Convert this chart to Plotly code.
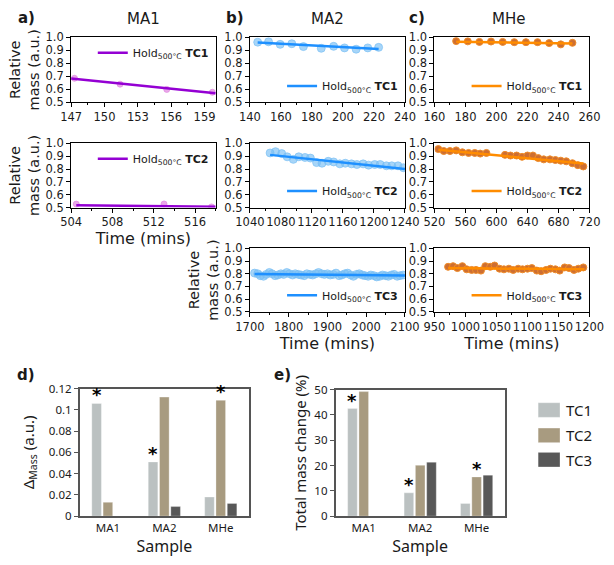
import plotly.graph_objects as go

# ---------------- data ----------------
# MA1
a1_x = [147.3, 151.4, 155.6, 159.7]
a1_y = [0.685, 0.640, 0.600, 0.578]
a1_fit_x = [147.0, 160.0]
a1_fit_y = [0.683, 0.570]

a2_x = [504.5, 513.0, 517.6]
a2_y = [0.527, 0.528, 0.505]
a2_fit_x = [504.5, 518.0]
a2_fit_y = [0.517, 0.507]

# MA2
b1_x = [145, 152, 159.5, 167, 174.5, 186, 194, 201, 208.5, 216, 223]
b1_y = [0.962, 0.965, 0.945, 0.950, 0.928, 0.915, 0.930, 0.918, 0.908, 0.918, 0.922]
b1_fit_x = [145, 223]
b1_fit_y = [0.960, 0.910]

b2_x = [1066, 1073, 1081, 1088, 1096, 1103, 1111, 1118, 1126, 1133, 1141, 1148,
        1156, 1163, 1171, 1178, 1186, 1193, 1201, 1208, 1216, 1223, 1231, 1238]
b2_y = [0.925, 0.935, 0.920, 0.895, 0.875, 0.895, 0.890, 0.885, 0.850, 0.845, 0.860, 0.855,
        0.840, 0.845, 0.840, 0.835, 0.840, 0.830, 0.835, 0.835, 0.825, 0.825, 0.825, 0.810]
b2_fit_x = [1066, 1240]
b2_fit_y = [0.910, 0.800]

b3_x = [1712, 1720, 1727, 1735, 1742, 1750, 1757, 1765, 1772, 1780, 1787, 1795, 1802,
        1810, 1817, 1825, 1832, 1840, 1847, 1855, 1862, 1870, 1877, 1885, 1892, 1900,
        1907, 1915, 1922, 1930, 1937, 1945, 1952, 1960, 1967, 1975, 1982, 1990, 1997,
        2005, 2012, 2020, 2027, 2035, 2042, 2050, 2057, 2065, 2072, 2080, 2087, 2095]
b3_y = [0.805, 0.800, 0.785, 0.780, 0.795, 0.810, 0.800, 0.785, 0.790, 0.800, 0.795, 0.810,
        0.800, 0.790, 0.800, 0.795, 0.790, 0.785, 0.800, 0.795, 0.790, 0.800, 0.810, 0.800,
        0.795, 0.800, 0.790, 0.795, 0.805, 0.785, 0.790, 0.800, 0.805, 0.790, 0.780, 0.795,
        0.800, 0.790, 0.785, 0.780, 0.790, 0.785, 0.775, 0.780, 0.790, 0.785, 0.780, 0.790,
        0.795, 0.780, 0.785, 0.790]
b3_fit_x = [1712, 2100]
b3_fit_y = [0.798, 0.786]

# MHe
c1_x = [174, 181.5, 189, 196.5, 204, 211.5, 219, 226.5, 234, 241.5, 249]
c1_y = [0.970, 0.968, 0.964, 0.967, 0.964, 0.962, 0.962, 0.962, 0.955, 0.945, 0.957]
c1_fit_x = [174, 249]
c1_fit_y = [0.966, 0.951]

c2_x = [525, 532, 540, 548, 556, 564, 572, 579, 587, 611, 618, 626,
        633, 640, 647, 654, 661, 669, 676, 683, 690, 698, 705, 712]
c2_y = [0.955, 0.940, 0.940, 0.945, 0.930, 0.925, 0.925, 0.920, 0.925, 0.910, 0.905, 0.905,
        0.895, 0.905, 0.905, 0.885, 0.875, 0.875, 0.870, 0.865, 0.860, 0.845, 0.830, 0.820]
c2_fit_x = [525, 712]
c2_fit_y = [0.950, 0.842]

c3_x = [972, 980, 987, 995, 1002, 1010, 1017, 1025, 1032, 1040, 1047, 1055, 1062, 1070,
        1077, 1085, 1092, 1100, 1107, 1115, 1122, 1130, 1137, 1145, 1152, 1160, 1167,
        1175, 1182, 1190]
c3_y = [0.855, 0.860, 0.845, 0.860, 0.835, 0.830, 0.830, 0.825, 0.860, 0.855, 0.865, 0.840,
        0.835, 0.840, 0.830, 0.840, 0.835, 0.840, 0.845, 0.825, 0.820, 0.830, 0.840, 0.835,
        0.825, 0.850, 0.845, 0.830, 0.840, 0.850]
c3_fit_x = [972, 1192]
c3_fit_y = [0.845, 0.835]

# bar charts
samples = ["MA1", "MA2", "MHe"]
tc_names = ["TC1", "TC2", "TC3"]
delta_TC1 = [0.106, 0.051, 0.018]
delta_TC2 = [0.013, 0.112, 0.109]
delta_TC3 = [None, 0.009, 0.012]
total_TC1 = [42.5, 9.2, 5.0]
total_TC2 = [49.2, 20.1, 15.5]
total_TC3 = [None, 21.3, 16.2]
delta_star = [("MA1", 0), ("MA2", 0), ("MHe", 1)]   # (sample, TC index)
total_star = [("MA1", 0), ("MA2", 0), ("MHe", 1)]

# ---------------- styling ----------------
W, H = 614, 565
FONT = "DejaVu Sans"
BFONT = "Noto Sans"
TXT = "#1a1a1a"

def fx(p):
    return p / W

def fy(p):
    return 1 - p / H

purple = dict(line="rgb(148,0,211)", mk="rgba(225,140,225,0.75)", mkline="rgba(225,140,225,0.75)", size=6)
blue = dict(line="rgb(30,144,255)", mk="rgba(120,190,245,0.65)", mkline="rgba(120,190,245,0.65)", size=8)
orange = dict(line="rgb(255,140,0)", mk="rgb(205,110,50)", mkline="rgb(240,140,40)", size=7)

# key, x, y, fitx, fity, style, xrange, dtick, (x0,x1,y0,y1) px box, legend pos, tc label, row label
panels = [
    ("a1", a1_x, a1_y, a1_fit_x, a1_fit_y, purple, [147, 160], 3, (59, 211, 30, 97), "top", "TC1", True),
    ("b1", b1_x, b1_y, b1_fit_x, b1_fit_y, blue, [140, 240], 20, (247, 410, 30, 97), "bottom", "TC1", False),
    ("c1", c1_x, c1_y, c1_fit_x, c1_fit_y, orange, [160, 260], 20, (441, 604, 30, 97), "bottom", "TC1", False),
    ("a2", a2_x, a2_y, a2_fit_x, a2_fit_y, purple, [504, 518], 4, (59, 211, 139, 205), "top", "TC2", True),
    ("b2", b2_x, b2_y, b2_fit_x, b2_fit_y, blue, [1040, 1240], 40, (247, 410, 139, 205), "bottom", "TC2", False),
    ("c2", c2_x, c2_y, c2_fit_x, c2_fit_y, orange, [520, 720], 40, (441, 604, 139, 205), "bottom", "TC2", False),
    ("b3", b3_x, b3_y, b3_fit_x, b3_fit_y, blue, [1700, 2100], 100, (247, 410, 247, 312), "bottom", "TC3", True),
    ("c3", c3_x, c3_y, c3_fit_x, c3_fit_y, orange, [950, 1200], 50, (441, 604, 247, 312), "bottom", "TC3", False),
]

fig = go.Figure()
layout = dict(
    width=W, height=H, margin=dict(l=0, r=0, t=0, b=0),
    paper_bgcolor="white", plot_bgcolor="white",
    font=dict(family=FONT, size=11, color=TXT),
    barmode="group", bargap=0.4, bargroupgap=0.15,
)

for i, (key, xs, ys, fxs, fys, st, xr, dt, box, lpos, tc, rowlab) in enumerate(panels):
    n = i + 1
    ax = "" if n == 1 else str(n)
    leg = "legend" + str(n + 1)
    x0, x1, y0, y1 = box
    fig.add_trace(go.Scatter(
        x=xs, y=ys, mode="markers", xaxis="x" + ax, yaxis="y" + ax,
        marker=dict(color=st["mk"], size=st["size"], line=dict(color=st["mkline"], width=1)),
        showlegend=False, hoverinfo="skip"))
    fig.add_trace(go.Scatter(
        x=fxs, y=fys, mode="lines", xaxis="x" + ax, yaxis="y" + ax,
        line=dict(color=st["line"], width=2.5),
        name="Hold<sub>500°C</sub> <b>" + tc + "</b>", legend=leg, showlegend=True))
    layout["xaxis" + ax] = dict(
        domain=[fx(x0), fx(x1)], anchor="y" + ax, range=xr, dtick=dt, tick0=xr[0],
        showline=True, linecolor="black", linewidth=1, mirror=True, tickangle=0,
        ticks="outside", ticklen=4, tickcolor="black", showgrid=False, zeroline=False,
        minor=dict(dtick=dt / 2, ticks="outside", ticklen=2, tickcolor="black"),
        tickfont=dict(size=11.5, color=TXT))
    layout["yaxis" + ax] = dict(
        domain=[fy(y1), fy(y0)], anchor="x" + ax, range=[0.5, 1.0], dtick=0.1,
        tickformat=".1f", showline=True, linecolor="black", linewidth=1, mirror=True,
        ticks="outside", ticklen=4, tickcolor="black", showgrid=False, zeroline=False,
        tickfont=dict(size=11.5, color=TXT))
    if rowlab:
        layout["yaxis" + ax]["title"] = dict(text="Relative<br>mass (a.u.)",
                                             font=dict(size=14.5, color=TXT), standoff=2)
    if lpos == "top":
        ly, yanc = fy(y0 + 1), "top"
    else:
        ly, yanc = fy(y1 - 2), "bottom"
    layout[leg] = dict(x=fx(x1 - 2), y=ly, xanchor="right", yanchor=yanc,
                       bgcolor="rgba(0,0,0,0)", font=dict(size=11, color=TXT),
                       itemwidth=30, tracegroupgap=0)

# x-axis titles
for ax in ["4", "7", "8"]:
    layout["xaxis" + ax]["title"] = dict(text="Time (mins)", font=dict(size=16, color=TXT), standoff=4)

# ---------------- bar charts ----------------
bar_colors = ["rgb(187,193,193)", "rgb(168,155,128)", "rgb(88,88,88)"]
delta_sets = [delta_TC1, delta_TC2, delta_TC3]
total_sets = [total_TC1, total_TC2, total_TC3]
for k in range(3):
    fig.add_trace(go.Bar(x=samples, y=delta_sets[k], name=tc_names[k], xaxis="x9", yaxis="y9",
                         marker=dict(color=bar_colors[k], line=dict(color="rgba(255,255,255,0.6)", width=0.5)),
                         showlegend=False))
for k in range(3):
    fig.add_trace(go.Bar(x=samples, y=total_sets[k], name=tc_names[k], xaxis="x10", yaxis="y10",
                         marker=dict(color=bar_colors[k], line=dict(color="rgba(255,255,255,0.6)", width=0.5)),
                         showlegend=False))

bar_ax = dict(showline=True, linecolor="#555", linewidth=1.5, mirror=True, showgrid=False,
              zeroline=False, tickfont=dict(family=BFONT, size=11.5, color=TXT))
layout["xaxis9"] = dict(bar_ax, domain=[fx(68), fx(246)], anchor="y9", ticks="",
                        title=dict(text="Sample", font=dict(family=BFONT, size=16, color=TXT), standoff=6))
layout["yaxis9"] = dict(bar_ax, domain=[fy(522), fy(391)], anchor="x9", range=[0, 0.12], dtick=0.02,
                        ticks="outside", ticklen=4, tickcolor="#555",
                        title=dict(text="Δ<sub>Mass</sub> (a.u.)", font=dict(family=BFONT, size=15, color=TXT), standoff=11))
layout["xaxis10"] = dict(bar_ax, domain=[fx(337), fx(515)], anchor="y10", ticks="",
                         title=dict(text="Sample", font=dict(family=BFONT, size=16, color=TXT), standoff=6))
layout["yaxis10"] = dict(bar_ax, domain=[fy(522), fy(392)], anchor="x10", range=[0, 50], dtick=10,
                         ticks="outside", ticklen=4, tickcolor="#555",
                         title=dict(text="Total mass change (%)", font=dict(family=BFONT, size=15, color=TXT), standoff=4))

annotations = []
shapes = []
offsets = [-0.2, 0.0, 0.2]
for (s, k) in delta_star:
    idx = samples.index(s)
    annotations.append(dict(x=idx + offsets[k], y=delta_sets[k][idx], xref="x9", yref="y9",
                            text="<b>*</b>", showarrow=False, yanchor="bottom", yshift=-4,
                            font=dict(size=18, color="black")))
for (s, k) in total_star:
    idx = samples.index(s)
    annotations.append(dict(x=idx + offsets[k], y=total_sets[k][idx], xref="x10", yref="y10",
                            text="<b>*</b>", showarrow=False, yanchor="bottom", yshift=-4,
                            font=dict(size=18, color="black")))

# legend for the bar charts (swatch + label)
for k, yc in enumerate([413, 439, 464]):
    shapes.append(dict(type="rect", xref="paper", yref="paper",
                       x0=fx(550), x1=fx(573), y0=fy(yc + 7.5), y1=fy(yc - 7.5),
                       fillcolor=bar_colors[k], line=dict(color="rgba(255,255,255,0.6)", width=0.5)))
    annotations.append(dict(x=fx(577), y=fy(yc), xref="paper", yref="paper", text=tc_names[k],
                            showarrow=False, xanchor="left", yanchor="middle",
                            font=dict(family=BFONT, size=15, color=TXT)))

# panel titles and letters
def ann(x, y, text, size, bold=False):
    annotations.append(dict(x=fx(x), y=fy(y), xref="paper", yref="paper",
                            text=("<b>%s</b>" % text) if bold else text, showarrow=False,
                            font=dict(size=size, color=TXT), xanchor="center", yanchor="middle"))

ann(12, 10, "a)", 15, bold=True)
ann(231, 10, "b)", 15, bold=True)
ann(423, 10, "c)", 15, bold=True)
ann(135, 11, "MA1", 15)
ann(329, 11, "MA2", 15)
ann(519, 11, "MHe", 15)
ann(12, 377, "d)", 15, bold=True)
ann(281, 377, "e)", 15, bold=True)

layout["annotations"] = annotations
layout["shapes"] = shapes
fig.update_layout(**layout)
fig.write_html("out.html", config={"displayModeBar": False},
               post_script="document.body.style.margin='0';document.body.style.overflow='hidden';")
